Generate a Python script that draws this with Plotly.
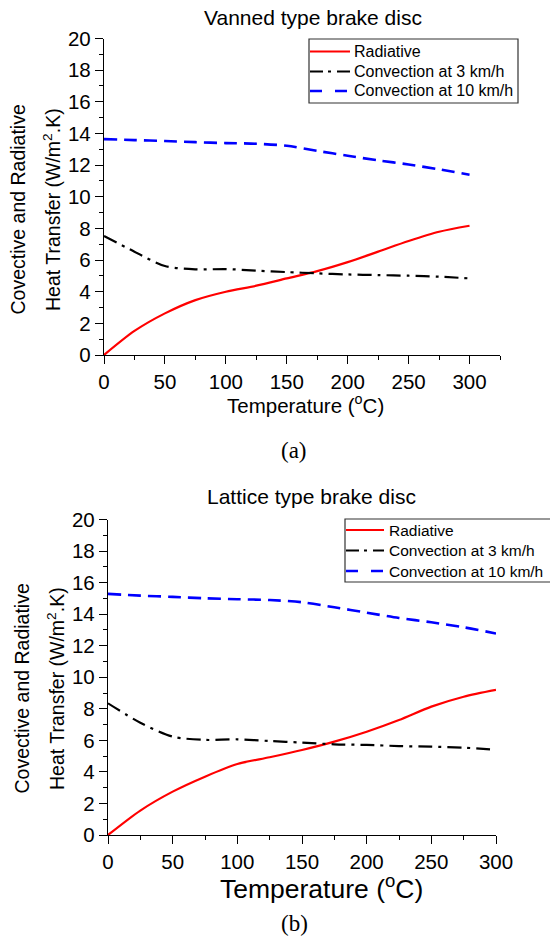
import plotly.graph_objects as go

# ---------------- data ----------------
temps = [0, 25, 50, 75, 100, 125, 150, 175, 200, 225, 250, 275, 300]

vanned_radiative = [0, 1.52, 2.63, 3.47, 4.0, 4.38, 4.84, 5.3, 5.87, 6.53, 7.2, 7.79, 8.17]
vanned_conv3 = [7.52, 6.53, 5.62, 5.41, 5.43, 5.33, 5.24, 5.16, 5.09, 5.05, 5.01, 4.95, 4.84]
vanned_conv10 = [13.64, 13.58, 13.52, 13.45, 13.39, 13.35, 13.22, 12.9, 12.59, 12.3, 12.04, 11.73, 11.39]

lattice_radiative = [0, 1.55, 2.75, 3.7, 4.5, 4.93, 5.39, 5.92, 6.55, 7.29, 8.14, 8.77, 9.2]
lattice_conv3 = [8.35, 7.12, 6.24, 6.03, 6.07, 5.96, 5.86, 5.75, 5.71, 5.64, 5.6, 5.54, 5.4]
lattice_conv10 = [15.29, 15.18, 15.1, 15.01, 14.95, 14.9, 14.76, 14.44, 14.1, 13.76, 13.49, 13.17, 12.78]

series_names = ["Radiative", "Convection at 3 km/h", "Convection at 10 km/h"]
titles = ["Vanned type brake disc", "Lattice type brake disc"]
panel_labels = ["(a)", "(b)"]
x_title = "Temperature (<sup>o</sup>C)"
y_title_1 = "Covective and Radiative"
y_title_2 = "Heat Transfer (W/m<sup>2</sup>.K)"

W, H = 550, 946
FONT = "Liberation Sans, Arial, sans-serif"

styles = [
    dict(color="#ff0000", width=2.2, dash="solid", legend_dash="solid"),
    dict(color="#000000", width=2.2, dash="14px,6px,3px,6px", legend_dash="13px,5px,3px,6px"),
    dict(color="#0000ff", width=2.6, dash="13px,7px", legend_dash="12px,13px"),
]

fig = go.Figure()

panels = [
    (temps, [vanned_radiative, vanned_conv3, vanned_conv10], "x", "y"),
    (temps, [lattice_radiative, lattice_conv3, lattice_conv10], "x2", "y2"),
]
for xs, ys_list, xa, ya in panels:
    for name, ys, st in zip(series_names, ys_list, styles):
        fig.add_trace(go.Scatter(
            x=xs, y=ys, name=name, mode="lines",
            line=dict(color=st["color"], width=st["width"], dash=st["dash"],
                      shape="spline", smoothing=0.8),
            xaxis=xa, yaxis=ya, showlegend=False,
        ))

def px_x(p):
    return p / W

def px_y(p):
    return 1 - p / H

axis_common = dict(
    showgrid=False, zeroline=False, showline=True, linecolor="black", linewidth=1.3,
    ticks="outside", ticklen=8, tickwidth=1.3, tickcolor="black",
    tickfont=dict(family=FONT, size=20.5, color="black"),
    mirror=False,
)

fig.update_layout(
    width=W, height=H,
    margin=dict(l=0, r=0, t=0, b=0, autoexpand=False),
    paper_bgcolor="white", plot_bgcolor="white",
    font=dict(family=FONT, color="black"),
    showlegend=False,
    xaxis=dict(domain=[px_x(104), px_x(500)], range=[0, 325], dtick=50, tick0=0,
               anchor="y", minor=dict(ticks="outside", dtick=25, ticklen=4, tickcolor="black"),
               **axis_common),
    yaxis=dict(domain=[px_y(355), px_y(38.5)], range=[0, 20], dtick=2, tick0=0,
               anchor="x", minor=dict(ticks="outside", dtick=1, ticklen=4, tickcolor="black"),
               **axis_common),
    xaxis2=dict(domain=[px_x(108), px_x(496)], range=[0, 300], dtick=50, tick0=0,
                anchor="y2", minor=dict(ticks="outside", dtick=25, ticklen=4, tickcolor="black"),
                **axis_common),
    yaxis2=dict(domain=[px_y(835), px_y(519.6)], range=[0, 20], dtick=2, tick0=0,
                anchor="x2", minor=dict(ticks="outside", dtick=1, ticklen=4, tickcolor="black"),
                **axis_common),
)

# ---------------- legends (box, samples, labels) ----------------
legend_boxes = [
    dict(x0=309, x1=518, y0=39, y1=103, sample_x1=350, text_x=352, rows=[51.5, 71.5, 91], size=16),
    dict(x0=345, x1=560, y0=519, y1=582, sample_x1=384, text_x=387, rows=[530, 550.5, 571], size=15.5),
]
for lb in legend_boxes:
    fig.add_shape(type="rect", xref="paper", yref="paper",
                  x0=px_x(lb["x0"]), x1=px_x(lb["x1"]), y0=px_y(lb["y0"]), y1=px_y(lb["y1"]),
                  line=dict(color="#333333", width=1.2), fillcolor="white", layer="above")
    for name, st, ry in zip(series_names, styles, lb["rows"]):
        fig.add_shape(type="line", xref="paper", yref="paper",
                      x0=px_x(lb["x0"] + 1), x1=px_x(lb["sample_x1"]), y0=px_y(ry), y1=px_y(ry),
                      line=dict(color=st["color"], width=st["width"], dash=st["legend_dash"]),
                      layer="above")
        fig.add_annotation(text=name, x=px_x(lb["text_x"]), y=px_y(ry), xref="paper", yref="paper",
                           xanchor="left", yanchor="middle", showarrow=False,
                           font=dict(family=FONT, size=lb["size"], color="black"))

annots = []
annots.append(dict(text=titles[0], x=px_x(313), y=px_y(18), size=21))
annots.append(dict(text=titles[1], x=px_x(311), y=px_y(497), size=21))
annots.append(dict(text=x_title, x=px_x(305), y=px_y(404), size=20.5))
annots.append(dict(text=x_title, x=px_x(321), y=px_y(887), size=26.5))
for a in annots:
    fig.add_annotation(text=a["text"], x=a["x"], y=a["y"], xref="paper", yref="paper",
                       xanchor="center", yanchor="middle", showarrow=False,
                       font=dict(family=FONT, size=a["size"], color="black"))
for cx1, cx2, cy in [(17.5, 52, 210), (21.5, 56, 689)]:
    fig.add_annotation(text=y_title_1, x=px_x(cx1), y=px_y(cy), xref="paper", yref="paper",
                       xanchor="center", yanchor="middle", showarrow=False, textangle=-90,
                       font=dict(family=FONT, size=19.5, color="black"))
    fig.add_annotation(text=y_title_2, x=px_x(cx2), y=px_y(cy), xref="paper", yref="paper",
                       xanchor="center", yanchor="middle", showarrow=False, textangle=-90,
                       font=dict(family=FONT, size=19.5, color="black"))
for lab, cy in zip(panel_labels, [450, 923]):
    fig.add_annotation(text=lab, x=px_x(294), y=px_y(cy), xref="paper", yref="paper",
                       xanchor="center", yanchor="middle", showarrow=False,
                       font=dict(family="Liberation Serif, Times New Roman, serif", size=23, color="black"))

fig.write_html("out.html")
